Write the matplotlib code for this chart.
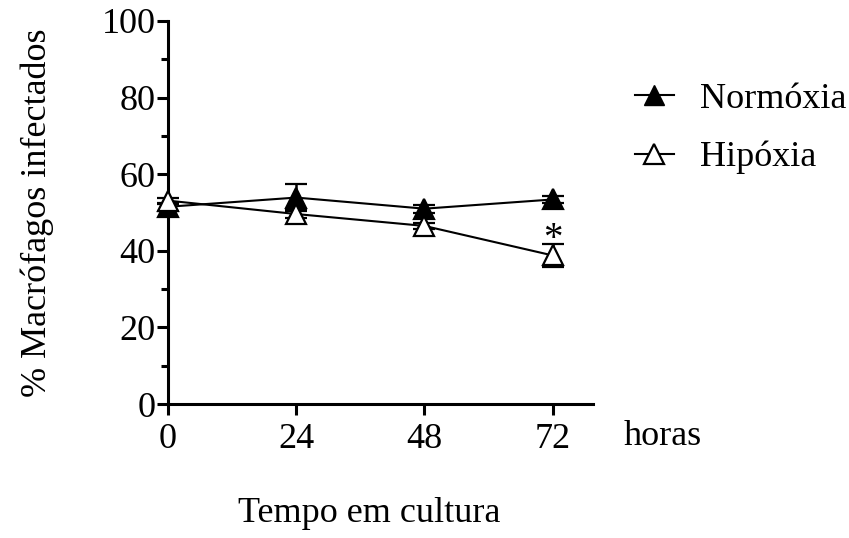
import numpy as np
from matplotlib import pyplot as plt
from matplotlib.lines import Line2D
from matplotlib.ticker import MultipleLocator

hours = [0, 24, 48, 72]
normoxia = [51.5, 53.9, 51.0, 53.4]
normoxia_err = [1.0, 3.5, 1.0, 0.8]
hipoxia = [53.1, 49.6, 46.5, 38.8]
hipoxia_err = [0.8, 1.0, 0.8, 3.0]
x_ticks = [0, 24, 48, 72]
y_ticks = [0, 20, 40, 60, 80, 100]

plt.rcParams['font.family'] = ['Liberation Serif', 'DejaVu Serif']
fs = 26

fig = plt.figure(figsize=(8.49, 5.38), dpi=100)
ax = fig.add_axes([0.198, 0.249, 0.5, 0.712])

style = dict(color='black', lw=1.5, marker='^', markersize=15, markeredgecolor='black',
             markeredgewidth=1.6, capsize=8, capthick=1.8, elinewidth=1.8, clip_on=False, zorder=3)
ax.errorbar(hours, normoxia, yerr=normoxia_err, markerfacecolor='black', **style)
ax.errorbar(hours, hipoxia, yerr=hipoxia_err, markerfacecolor='white', **style)

# significance mark above the 72 h hypoxia point
ax.text(72, hipoxia[3] + hipoxia_err[3] + 1.2, '*', ha='center', va='center', fontsize=fs + 2)

ax.set_xlim(0, 79.5)
ax.set_ylim(0, 100)
ax.set_xticks(x_ticks)
ax.set_yticks(y_ticks)
ax.yaxis.set_minor_locator(MultipleLocator(10))
ax.tick_params(axis='both', which='major', direction='out', length=8, width=2.2,
               labelsize=fs, pad=1)
ax.tick_params(axis='x', which='major', pad=6)
ax.tick_params(axis='y', which='minor', direction='out', length=5, width=2.2)
for side in ['top', 'right']:
    ax.spines[side].set_visible(False)
for side in ['left', 'bottom']:
    ax.spines[side].set_linewidth(2.2)

ax.set_ylabel('% Macrófagos infectados', fontsize=fs)
ax.yaxis.set_label_coords(-0.268, 0.5)
fig.text(0.735, 0.188, 'horas', fontsize=fs, ha='left', va='center')
fig.text(0.435, 0.045, 'Tempo em cultura', fontsize=fs, ha='center', va='center')

handles = [
    Line2D([], [], color='black', lw=1.5, marker='^', markersize=15, markerfacecolor='black'),
    Line2D([], [], color='black', lw=1.5, marker='^', markersize=15, markerfacecolor='white',
           markeredgewidth=1.6),
]
ax.legend(handles, ['Normóxia', 'Hipóxia'], loc='upper left', bbox_to_anchor=(1.099, 0.84),
          frameon=False, fontsize=fs, handlelength=1.1, handletextpad=0.7,
          labelspacing=0.7, borderaxespad=0, borderpad=0)

fig.savefig('out.png', dpi=100)
